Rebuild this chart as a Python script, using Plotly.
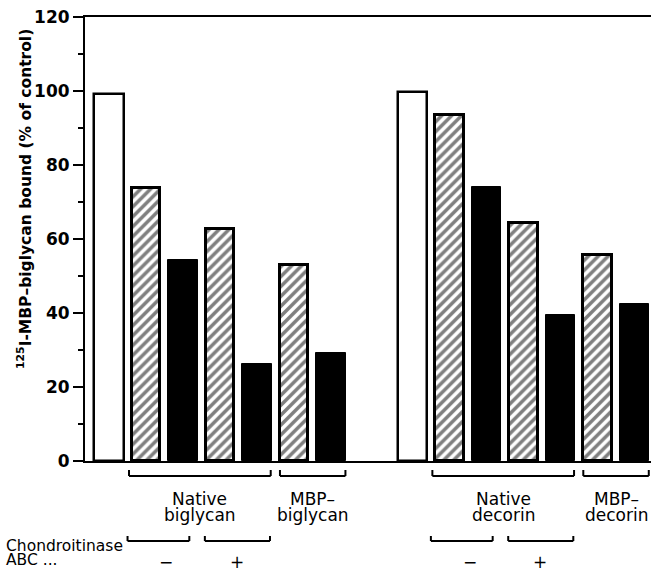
import plotly.graph_objects as go

# ---- data ----
groups = ["biglycan", "decorin"]
control = [99.2, 99.6]                       # open bars
hatched = [[73.9, 62.6, 53.1], [93.4, 64.4, 55.6]]   # hatched bars
solid = [[54.3, 26.3, 29.3], [74.0, 39.5, 42.5]]     # black bars
upper_labels = [["Native", "biglycan"], ["MBP–", "biglycan"],
                ["Native", "decorin"], ["MBP–", "decorin"]]
enzyme_signs = ["−", "+"]
y_ticks = [0, 20, 40, 60, 80, 100, 120]
y_title = "<sup>125</sup>I-MBP–biglycan bound (% of control)"

FONT = "DejaVu Sans"
W, H = 651, 571
L, R, T, B = 85, 0, 17, 110
group_start = [0.0, 8.2]

# positions of the 7 bars per group
pos = [[s + i for i in range(7)] for s in group_start]

fig = go.Figure()

# control bars
fig.add_trace(go.Bar(
    x=[p[0] for p in pos], y=control, width=0.8,
    marker=dict(color="white", line=dict(color="black", width=2.5)),
    showlegend=False))

# hatched and solid bars
hx, hy, sx, sy = [], [], [], []
for g in range(2):
    for k in range(3):
        hx.append(pos[g][1 + 2 * k]); hy.append(hatched[g][k])
        sx.append(pos[g][2 + 2 * k]); sy.append(solid[g][k])

fig.add_trace(go.Bar(
    x=hx, y=hy, width=0.77,
    marker=dict(color="white", line=dict(color="black", width=3),
                pattern=dict(shape="/", fgcolor="black", bgcolor="white",
                             size=7, solidity=0.5)),
    showlegend=False))
fig.add_trace(go.Bar(
    x=sx, y=sy, width=0.8,
    marker=dict(color="black", line=dict(color="black", width=1)),
    showlegend=False))

plot_h = H - T - B


def py(px):
    return (H - B - px) / plot_h


def bracket(x0, x1, ytop, ybot):
    for xs, ys in [((x0, x0), (ytop, ybot)), ((x0, x1), (ybot, ybot)),
                   ((x1, x1), (ybot, ytop))]:
        fig.add_shape(type="line", xref="x", yref="paper",
                      x0=xs[0], x1=xs[1], y0=py(ys[0]), y1=py(ys[1]),
                      line=dict(color="black", width=2))


anns = []
for g in range(2):
    p = pos[g]
    spans = [(p[1] - 0.46, p[4] + 0.37), (p[5] - 0.38, p[6] + 0.39)]
    for j, (a, b) in enumerate(spans):
        bracket(a, b, 470, 476)
        lab = upper_labels[2 * g + j]
        for line, ycen in zip(lab, [498.5, 514.5]):
            anns.append(dict(x=(a + b) / 2, y=py(ycen), xref="x", yref="paper",
                             text=line, showarrow=False, xanchor="center",
                             yanchor="middle",
                             font=dict(family=FONT, size=17, color="black")))
    low = [(p[1] - 0.5, p[2] + 0.17), (p[3] - 0.41, p[4] + 0.35)]
    sign_x = [p[1] + 0.55, p[3] + 0.46]
    for (a, b), sx_, sgn in zip(low, sign_x, enzyme_signs):
        bracket(a, b, 536, 541)
        anns.append(dict(x=sx_, y=py(562), xref="x", yref="paper", text=sgn,
                         showarrow=False, xanchor="center", yanchor="middle",
                         font=dict(family=FONT, size=17, color="black")))

for txt, ycen in [("Chondroitinase", 546), ("ABC ...", 559.5)]:
    anns.append(dict(x=(4 - L) / (W - L - R), y=py(ycen), xref="paper",
                     yref="paper", text=txt, showarrow=False, xanchor="left",
                     yanchor="middle",
                     font=dict(family=FONT, size=15.5, color="black")))

anns.append(dict(x=(24 - L) / (W - L - R), y=py(199), xref="paper",
                 yref="paper", text=y_title, textangle=-90, showarrow=False,
                 xanchor="center", yanchor="middle",
                 font=dict(family=FONT, size=15.5, color="black", weight="bold")))

fig.update_layout(
    width=W, height=H, margin=dict(l=L, r=R, t=T, b=B),
    plot_bgcolor="white", paper_bgcolor="white",
    bargap=0, annotations=anns,
    xaxis=dict(range=[-0.65, 14.65], showline=True, linecolor="black",
               linewidth=2, mirror=True, ticks="", showticklabels=False,
               showgrid=False, zeroline=False),
    yaxis=dict(range=[0, 120], tickvals=y_ticks, showline=True,
               linecolor="black", linewidth=2, ticks="outside", ticklen=10,
               tickwidth=2, tickcolor="black", showgrid=False, zeroline=False,
               tickfont=dict(family=FONT, size=17, color="black", weight="bold"),
               minor=dict(ticks="outside", ticklen=5, tickwidth=2,
                          tickcolor="black", dtick=10, showgrid=False)),
)

fig.write_html("out.html")
